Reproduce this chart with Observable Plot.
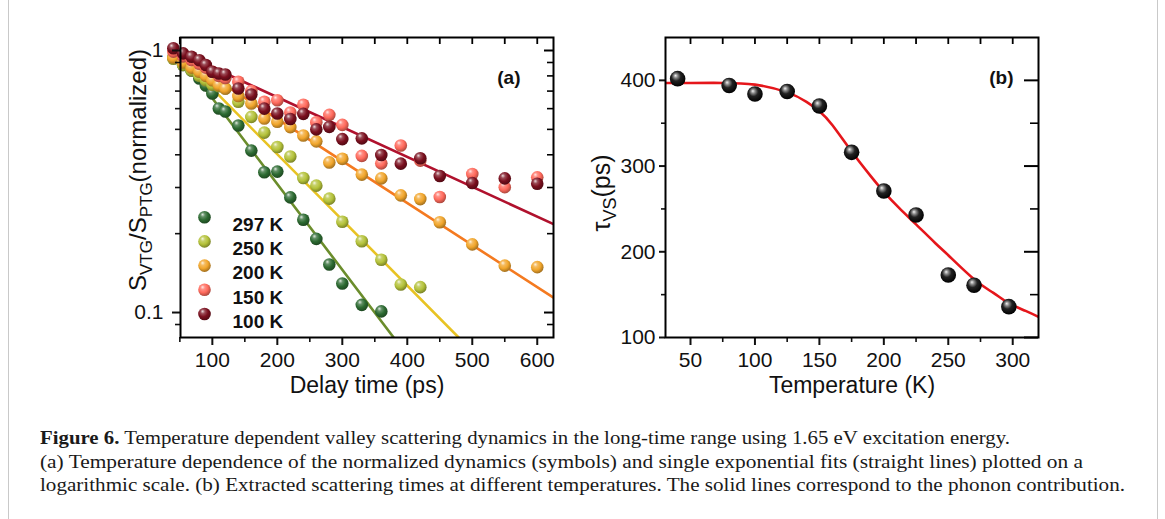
<!DOCTYPE html>
<html><head><meta charset="utf-8">
<script src="https://cdn.jsdelivr.net/npm/d3@7"></script>
<script src="https://cdn.jsdelivr.net/npm/@observablehq/plot@0.6"></script>
<style>
html,body{margin:0;padding:0;background:#fff;}
body{width:1165px;height:519px;position:relative;overflow:hidden;font-family:Arial,"Liberation Sans",sans-serif;}
#pa{position:absolute;left:0;top:0}
#pb{position:absolute;left:580px;top:0}
#cap{position:absolute;left:40px;top:426px;font-family:"Liberation Serif",serif;font-size:19px;line-height:23.5px;white-space:nowrap;color:#1a1a1a}
#cap div{transform-origin:0 50%;display:inline-block}
.bd{position:absolute;top:0;bottom:0;width:1px;background:#c9c9c9}
</style></head>
<body>
<svg id="defs" width="0" height="0" style="position:absolute;left:0;top:0"><defs></defs></svg>
<div class="bd" style="left:8px"></div>
<div class="bd" style="left:1157px"></div>
<div id="pa"></div>
<div id="pb"></div>
<div id="cap">
<div><b>Figure 6.</b> Temperature dependent valley scattering dynamics in the long-time range using 1.65 eV excitation energy.</div><br>
<div>(a) Temperature dependence of the normalized dynamics (symbols) and single exponential fits (straight lines) plotted on a</div><br>
<div>logarithmic scale. (b) Extracted scattering times at different temperatures. The solid lines correspond to the phonon contribution.</div>
</div>
<script>
// ---------- Panel (a) data ----------
const delayTimes = [40,55,68,80,90,100,110,120,140,160,180,200,220,240,260,280,300,330,360,390,420,450,500,550,600];
const s297K = [0.94,0.88,0.839,0.782,0.735,0.685,0.601,0.585,0.517,0.415,0.343,0.345,0.275,0.226,0.191,0.1525,0.129,0.107,0.101];
const s250K = [0.93,0.88,0.84,0.80,0.77,0.74,0.73,0.716,0.637,0.558,0.486,0.428,0.394,0.326,0.305,0.272,0.222,0.187,0.159,0.128,0.125];
const s200K = [0.94,0.90,0.86,0.83,0.80,0.77,0.737,0.716,0.67,0.628,0.55,0.535,0.51,0.474,0.45,0.374,0.386,0.336,0.325,0.28,0.271,0.221,0.182,0.151,0.149];
const s150K = [0.99,0.95,0.92,0.89,0.86,0.83,0.80,0.785,0.76,0.70,0.637,0.646,0.58,0.621,0.532,0.568,0.52,0.396,0.371,0.434,0.38,0.276,0.338,0.301,0.328];
const s100K = [1.02,0.975,0.946,0.918,0.88,0.83,0.817,0.81,0.716,0.679,0.60,0.575,0.548,0.573,0.50,0.511,0.459,0.462,0.399,0.37,0.388,0.332,0.312,0.325,0.31];
const seriesLabels = ["297 K","250 K","200 K","150 K","100 K"];
const ballColors = ["#2c6a31","#b4c23a","#f1a62c","#ff6a5c","#7a0f1e"];

// straight-line exponential fits (end points)
const fitT297 = [51,379], fitV297 = [0.95,0.0803];
const fitT250 = [51,479], fitV250 = [0.949,0.0803];
const fitT200 = [51,625], fitV200 = [0.95,0.114];
const fitT100 = [51,625], fitV100 = [0.98,0.2175];
const fitColors = ["#6b8d2c","#e8c323","#f47a20","#b0112d"];

const xTicksA = [100,200,300,400,500,600];
const xMinorA = [50,150,250,350,450,550];
const yTicksA = [0.1,1];
const yMinorA = [0.09,0.2,0.3,0.4,0.5,0.6,0.7,0.8,0.9];

// ---------- Panel (b) data ----------
const tempsB = [40,80,100,125,150,175,200,225,250,270,297];
const tauVS = [402,394,384,387,370,316,271,243,173,161,136];
const fitTemps = [30.6,50,75,100,125,140,150,160,175,190,200,212,225,240,250,270,285,297,310,320];
const fitTau = [397,397,397,395,386,375,364,348,317,288,270,251,232,210,196,168,152,140,131,124];
const xTicksB = [50,100,150,200,250,300];
const xMinorB = [75,125,175,225,275];
const yTicksB = [100,200,300,400];
const yMinorB = [150,250,350];

// ---------- gradients for glossy balls ----------
const defs = d3.select("#defs defs");
function addGrad(id, base, hi = 0.85) {
  const g = defs.append("radialGradient").attr("id", id)
    .attr("cx","42%").attr("cy","38%").attr("r","62%").attr("fx","34%").attr("fy","28%");
  g.append("stop").attr("offset","0%").attr("stop-color", d3.interpolateRgb(base,"#fff")(hi));
  g.append("stop").attr("offset","28%").attr("stop-color", d3.interpolateRgb(base,"#fff")(0.25));
  g.append("stop").attr("offset","62%").attr("stop-color", base);
  g.append("stop").attr("offset","100%").attr("stop-color", d3.color(base).darker(1.1).formatHex());
}
const gradIds = ["g297","g250","g200","g150","g100"];
gradIds.forEach((id,i) => addGrad(id, ballColors[i]));
(function(){
  const g = defs.append("radialGradient").attr("id","gblack")
    .attr("cx","45%").attr("cy","40%").attr("r","60%").attr("fx","36%").attr("fy","30%");
  [["0%","#f4f4f4"],["22%","#8a8a8a"],["50%","#222"],["100%","#000"]].forEach(([o,c]) =>
    g.append("stop").attr("offset",o).attr("stop-color",c));
})();

const font = "Arial, 'Liberation Sans', sans-serif";

// ---------- Panel (a) ----------
const seriesVals = [s297K, s250K, s200K, s150K, s100K];
const fits = [[fitT297,fitV297],[fitT250,fitV250],[fitT200,fitV200],[fitT100,fitV100]];
const wA = 580, hA = 400, mlA = 180, mrA = 27, mtA = 37, mbA = 63;
const fwA = wA - mlA - mrA, fhA = hA - mtA - mbA;

const marksA = [];
fits.forEach(([ts, vs], i) => {
  marksA.push(Plot.line(ts.map((t,j) => ({t, v: vs[j]})), {x:"t", y:"v", stroke: fitColors[i], strokeWidth: 2.6, clip: true}));
});
seriesVals.forEach((vals, i) => {
  marksA.push(Plot.dot(vals.map((v,j) => ({t: delayTimes[j], v})), {x:"t", y:"v", r: 6.3, fill: `url(#${gradIds[i]})`}));
});
seriesLabels.forEach((lab, i) => {
  marksA.push(Plot.dot([lab], {frameAnchor:"top-left", dx: 24, dy: 179.7 + i*24.2, r: 6.3, fill: `url(#${gradIds[i]})`}));
  marksA.push(Plot.text([lab], {frameAnchor:"top-left", dx: 52, dy: 180 + i*24.2, text: d => d, textAnchor:"start", fontWeight:"bold", fontSize: 19, fill:"#111"}));
});
marksA.push(Plot.text(["(a)"], {frameAnchor:"top-right", dx:-33, dy:33, text: d=>d, textAnchor:"end", fontWeight:"bold", fontSize:19, fill:"#111"}));
marksA.push(
  Plot.axisX({ticks: xTicksA, tickSize: 8, tickPadding: 7, tickFormat: d3.format("d"), label: null, strokeWidth: 2, fontSize: 21}),
  Plot.axisX({ticks: xMinorA, tickSize: 5, tickFormat: () => "", label: null, strokeWidth: 1.6}),
  Plot.axisY({ticks: yTicksA, tickSize: 8, tickPadding: 9, tickFormat: d3.format("~g"), label: null, strokeWidth: 2, fontSize: 21}),
  Plot.axisY({ticks: yMinorA, tickSize: 5, tickFormat: () => "", label: null, strokeWidth: 1.6}),
  Plot.ruleX(xTicksA.concat(xMinorA), {x: d=>d, insetBottom: fhA - 7, stroke:"#000", strokeWidth: 1.8}),
  Plot.ruleY(yTicksA, {y: d=>d, insetLeft: fwA - 9, stroke:"#000", strokeWidth: 2}),
  Plot.ruleY(yMinorA, {y: d=>d, insetLeft: fwA - 6, stroke:"#000", strokeWidth: 1.6}),
  Plot.text(["Delay time (ps)"], {frameAnchor:"bottom", dy: 55, text: d=>d, fontSize: 23, fill:"#111"}),
  Plot.frame({stroke:"#000", strokeWidth: 2})
);
const plotA = Plot.plot({
  width: wA, height: hA, marginLeft: mlA, marginRight: mrA, marginTop: mtA, marginBottom: mbA,
  x: {type: "linear", domain: [51, 625]},
  y: {type: "log", domain: [0.0803, 1.121]},
  style: {fontFamily: font, fontSize: "21px", color: "#111", background: "transparent", overflow: "visible"},
  marks: marksA
});
document.getElementById("pa").appendChild(plotA);
{
  const t = d3.select(plotA).append("text")
    .attr("transform", "translate(146,170) rotate(-90)")
    .attr("text-anchor", "middle").attr("font-family", font).attr("font-size", 24).attr("fill", "#111");
  t.append("tspan").text("S");
  t.append("tspan").attr("font-size", 17).attr("dy", 6).text("VTG");
  t.append("tspan").attr("dy", -6).text("/S");
  t.append("tspan").attr("font-size", 17).attr("dy", 6).text("PTG");
  t.append("tspan").attr("dy", -6).text("(normalized)");
}

// ---------- Panel (b) ----------
const wB = 585, hB = 400, mlB = 85, mrB = 127, mtB = 37, mbB = 63;
const fwB = wB - mlB - mrB, fhB = hB - mtB - mbB;
const plotB = Plot.plot({
  width: wB, height: hB, marginLeft: mlB, marginRight: mrB, marginTop: mtB, marginBottom: mbB,
  x: {type: "linear", domain: [30.6, 320]},
  y: {type: "linear", domain: [100, 450]},
  style: {fontFamily: font, fontSize: "21px", color: "#111", background: "transparent", overflow: "visible"},
  marks: [
    Plot.line(fitTemps.map((T,i) => ({T, tau: fitTau[i]})), {x:"T", y:"tau", stroke:"#e5161b", strokeWidth: 2.6, curve: "natural", clip: true}),
    Plot.dot(tempsB.map((T,i) => ({T, tau: tauVS[i]})), {x:"T", y:"tau", r: 7.8, fill: "url(#gblack)"}),
    Plot.text(["(b)"], {frameAnchor:"top-right", dx:-25, dy:33, text: d=>d, textAnchor:"end", fontWeight:"bold", fontSize:19, fill:"#111"}),
    Plot.axisX({ticks: xTicksB, tickSize: 8, tickPadding: 7, tickFormat: d3.format("d"), label: null, strokeWidth: 2, fontSize: 21}),
    Plot.axisX({ticks: xMinorB, tickSize: 5, tickFormat: () => "", label: null, strokeWidth: 1.6}),
    Plot.axisY({ticks: yTicksB, tickSize: 6, tickPadding: 4, tickFormat: d3.format("d"), label: null, strokeWidth: 2, fontSize: 21}),
    Plot.axisY({ticks: yMinorB, tickSize: 4, tickFormat: () => "", label: null, strokeWidth: 1.6}),
    Plot.ruleX(xTicksB.concat(xMinorB), {x: d=>d, insetBottom: fhB - 7, stroke:"#000", strokeWidth: 1.8}),
    Plot.ruleY(yTicksB, {y: d=>d, insetLeft: fwB - 14, stroke:"#000", strokeWidth: 2}),
    Plot.ruleY(yMinorB, {y: d=>d, insetLeft: fwB - 8, stroke:"#000", strokeWidth: 1.6}),
    Plot.text(["Temperature (K)"], {frameAnchor:"bottom", dy: 55, text: d=>d, fontSize: 23, fill:"#111"}),
    Plot.frame({stroke:"#000", strokeWidth: 2})
  ]
});
document.getElementById("pb").appendChild(plotB);
{
  const t = d3.select(plotB).append("text")
    .attr("transform", "translate(30,193) rotate(-90)")
    .attr("text-anchor", "middle").attr("font-family", font).attr("font-size", 25).attr("fill", "#111");
  t.append("tspan").text("τ");
  t.append("tspan").attr("font-size", 18).attr("dy", 6).text("VS");
  t.append("tspan").attr("dy", -6).text("(ps)");
}

// ---------- caption width fitting ----------
const capTargets = [970, 1043, 1085];
document.querySelectorAll("#cap > div").forEach((el, i) => {
  const w = el.getBoundingClientRect().width;
  el.style.transform = `scaleX(${capTargets[i] / w})`;
});
</script>
</body></html>
